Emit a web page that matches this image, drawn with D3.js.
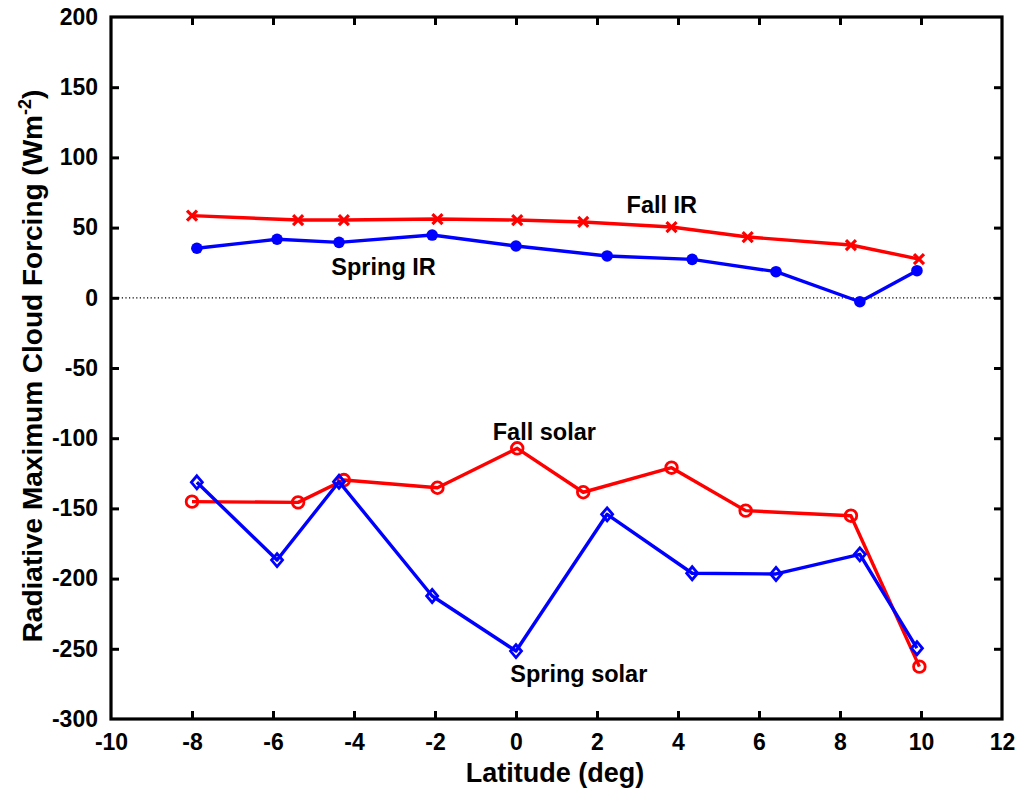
<!DOCTYPE html>
<html>
<head>
<meta charset="utf-8">
<script src="https://cdn.jsdelivr.net/npm/d3@7"></script>
<style>
  html, body { margin: 0; padding: 0; background: #fff; }
  svg { display: block; font-family: "Liberation Sans", Arial, sans-serif; font-weight: bold; }
</style>
</head>
<body>
<svg id="chart" width="1021" height="790"></svg>
<script>
// Latitude of each profile (deg) and peak cloud forcing (W m^-2)
const fallIRLat      = [-8.0, -5.38, -4.25, -1.94, 0.03, 1.66, 3.84, 5.72, 8.27, 9.95];
const fallIRVal      = [58.5, 55.4, 55.4, 56.1, 55.4, 54.0, 50.4, 43.3, 37.6, 27.6];
const springIRLat    = [-7.88, -5.9, -4.37, -2.07, 0.0, 2.25, 4.35, 6.42, 8.49, 9.9];
const springIRVal    = [35.3, 41.7, 39.5, 44.7, 36.9, 29.8, 27.4, 18.6, -2.8, 19.3];
const fallSolarLat   = [-8.0, -5.38, -4.25, -1.94, 0.03, 1.66, 3.84, 5.67, 8.27, 9.96];
const fallSolarVal   = [-145.2, -145.7, -129.8, -135.3, -107.2, -138.5, -121.0, -151.6, -155.2, -262.7];
const springSolarLat = [-7.88, -5.9, -4.37, -2.07, 0.0, 2.25, 4.35, 6.42, 8.49, 9.9];
const springSolarVal = [-131.4, -186.8, -131.0, -212.4, -251.6, -154.2, -196.2, -196.7, -182.7, -249.6];

const xTicks = [-10, -8, -6, -4, -2, 0, 2, 4, 6, 8, 10, 12];
const yTicks = [200, 150, 100, 50, 0, -50, -100, -150, -200, -250, -300];

const seriesLabels = [
  { text: "Fall IR", lat: 3.6, val: 60.5 },
  { text: "Spring IR", lat: -3.27, val: 16 },
  { text: "Fall solar", lat: 0.7, val: -101.5 },
  { text: "Spring solar", lat: 1.55, val: -274 }
];

const svg = d3.select("#chart");
const plotL = 111, plotR = 1002, plotT = 17, plotB = 719;

const x = d3.scaleLinear().domain([-10, 12]).range([plotL, plotR]);
const y = d3.scaleLinear().domain([-300, 200]).range([plotB, plotT]);

const RED = "#ff0000", BLUE = "#0000ff";
const plain = d => String(d);   // ASCII hyphen for negatives

// zero reference line
svg.append("line")
  .attr("x1", plotL).attr("x2", plotR)
  .attr("y1", y(0)).attr("y2", y(0))
  .attr("stroke", "#000").attr("stroke-width", 1.2)
  .attr("stroke-dasharray", "1.2,2.4");

// axes with inward ticks on all four sides
const tickLen = 8;
const axisStyle = g => {
  g.select(".domain").remove();
  g.selectAll(".tick line").attr("stroke", "#000").attr("stroke-width", 3);
  g.selectAll(".tick text").attr("font-size", 23).attr("font-weight", "bold")
    .attr("font-family", "'Liberation Sans', Arial, sans-serif").attr("fill", "#000");
};

svg.append("g").attr("transform", `translate(0,${plotB})`)
  .call(d3.axisBottom(x).tickValues(xTicks).tickFormat(plain)
    .tickSizeInner(-tickLen).tickSizeOuter(0).tickPadding(15))
  .call(axisStyle)
  .call(g => g.selectAll(".tick").filter(d => d === -10 || d === 12).select("line").remove());

svg.append("g").attr("transform", `translate(0,${plotT})`)
  .call(d3.axisTop(x).tickValues(xTicks).tickFormat("").tickSizeInner(-tickLen).tickSizeOuter(0))
  .call(axisStyle)
  .call(g => g.selectAll(".tick").filter(d => d === -10 || d === 12).select("line").remove());

svg.append("g").attr("transform", `translate(${plotL},0)`)
  .call(d3.axisLeft(y).tickValues(yTicks).tickFormat(plain)
    .tickSizeInner(-tickLen).tickSizeOuter(0).tickPadding(13))
  .call(axisStyle)
  .call(g => g.selectAll(".tick").filter(d => d === 200 || d === -300).select("line").remove());

svg.append("g").attr("transform", `translate(${plotR},0)`)
  .call(d3.axisRight(y).tickValues(yTicks).tickFormat("").tickSizeInner(-tickLen).tickSizeOuter(0))
  .call(axisStyle)
  .call(g => g.selectAll(".tick").filter(d => d === 200 || d === -300).select("line").remove());

// frame
svg.append("rect")
  .attr("x", plotL).attr("y", plotT)
  .attr("width", plotR - plotL).attr("height", plotB - plotT)
  .attr("fill", "none").attr("stroke", "#000").attr("stroke-width", 3.2);

// series
const line = d3.line().x(d => x(d[0])).y(d => y(d[1]));
const zip = (a, b) => a.map((v, i) => [v, b[i]]);

const series = [
  { pts: zip(fallIRLat, fallIRVal), color: RED, marker: "cross" },
  { pts: zip(springIRLat, springIRVal), color: BLUE, marker: "dot" },
  { pts: zip(fallSolarLat, fallSolarVal), color: RED, marker: "ring" },
  { pts: zip(springSolarLat, springSolarVal), color: BLUE, marker: "diamond" }
];

series.forEach(s => {
  const g = svg.append("g");
  g.append("path").datum(s.pts)
    .attr("d", line).attr("fill", "none")
    .attr("stroke", s.color).attr("stroke-width", 3.4)
    .attr("stroke-linejoin", "round");
  const m = g.selectAll("g.m").data(s.pts).join("g")
    .attr("transform", d => `translate(${x(d[0])},${y(d[1])})`);
  if (s.marker === "cross") {
    m.append("path").attr("d", "M-5,-5L5,5M-5,5L5,-5")
      .attr("stroke", s.color).attr("stroke-width", 3.2).attr("fill", "none");
  } else if (s.marker === "dot") {
    m.append("circle").attr("r", 5.8).attr("fill", s.color);
  } else if (s.marker === "ring") {
    m.append("circle").attr("r", 5.8).attr("fill", "none")
      .attr("stroke", s.color).attr("stroke-width", 2.8);
  } else if (s.marker === "diamond") {
    m.append("path").attr("d", "M0,-6.5L5.5,0L0,6.5L-5.5,0Z").attr("fill", "none")
      .attr("stroke", s.color).attr("stroke-width", 2.8);
  }
});

// series annotations
svg.selectAll("text.lab").data(seriesLabels).join("text")
  .attr("class", "lab")
  .attr("x", d => x(d.lat)).attr("y", d => y(d.val))
  .attr("text-anchor", "middle").attr("font-size", 23.5).attr("fill", "#000")
  .text(d => d.text);

// axis titles
svg.append("text")
  .attr("x", 555).attr("y", 782)
  .attr("text-anchor", "middle").attr("font-size", 27)
  .text("Latitude (deg)");

const yTitle = svg.append("text")
  .attr("transform", "translate(42,366) rotate(-90)")
  .attr("text-anchor", "middle").attr("font-size", 28);
yTitle.append("tspan").text("Radiative Maximum Cloud Forcing (Wm");
yTitle.append("tspan").attr("dy", -11).attr("font-size", 18).text("-2");
yTitle.append("tspan").attr("dy", 11).text(")");
</script>
</body>
</html>
